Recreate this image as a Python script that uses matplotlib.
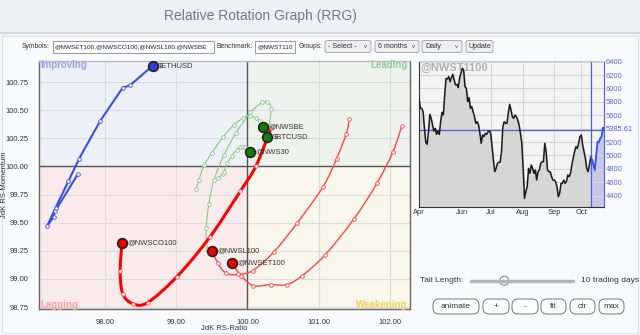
import numpy as np
import matplotlib.pyplot as plt
from matplotlib.path import Path
from matplotlib.patches import PathPatch, Rectangle, FancyBboxPatch, Circle
from matplotlib.transforms import Bbox, TransformedBbox

plt.rcParams['font.family'] = ['Liberation Sans', 'DejaVu Sans']

# RRG trails (oldest -> head), JdK RS-Ratio / RS-Momentum
eth_x = [97.62, 97.30, 97.28, 97.195, 97.31, 97.49, 97.64, 97.93, 98.25, 98.35, 98.67]
eth_y = [99.93, 99.60, 99.55, 99.475, 99.635, 99.87, 100.07, 100.40, 100.70, 100.72, 100.895]

nwsbe_x = [99.28, 99.32, 99.39, 99.50, 99.655, 99.81, 99.94, 100.03, 100.12, 100.18, 100.22]
nwsbe_y = [99.80, 99.88, 100.01, 100.12, 100.26, 100.37, 100.43, 100.45, 100.43, 100.40, 100.35]

btc_x = [99.435, 99.42, 99.46, 99.53, 99.67, 99.84, 100.04, 100.21, 100.28, 100.33, 100.28]
btc_y = [99.27, 99.45, 99.67, 99.88, 100.10, 100.30, 100.48, 100.57, 100.57, 100.51, 100.26]

nws30_x = [99.59, 99.65, 99.67, 99.72, 99.78, 99.85, 99.90, 99.94, 99.97, 100.005, 100.04]
nws30_y = [99.90, 99.93, 99.955, 100.03, 100.095, 100.15, 100.17, 100.17, 100.17, 100.155, 100.13]

nwsco_x = [100.33, 100.12, 99.90, 99.47, 99.01, 98.60, 98.39, 98.25, 98.215, 98.24]
nwsco_y = [100.34, 100.005, 99.78, 99.37, 99.02, 98.79, 98.78, 98.87, 99.07, 99.32]

nwsl_x = [101.43, 101.385, 101.25, 101.06, 100.70, 100.37, 100.075, 99.87, 99.70, 99.585, 99.50]
nwsl_y = [100.42, 100.29, 100.07, 99.82, 99.50, 99.24, 99.075, 99.04, 99.05, 99.14, 99.25]

nwset_x = [102.165, 102.04, 101.815, 101.49, 101.09, 100.77, 100.55, 100.33, 100.08, 99.91, 99.78]
nwset_y = [100.36, 100.13, 99.85, 99.53, 99.215, 99.03, 98.95, 98.95, 98.94, 99.03, 99.14]

# benchmark price (@NWST1100), daily
prices = [5853, 5704, 5704, 5654, 5405, 5196, 5166, 5355, 5614, 5554,
          5455, 5365, 5405, 5315, 5365, 5315, 5505, 5644, 5604, 5903,
          6151, 6141, 6176, 6101, 6161, 6211, 6126, 6052, 6062, 6012,
          6151, 6226, 6300, 6276, 6027, 6002, 5803, 5863, 5704, 5728,
          5654, 5579, 5480, 5505, 5455, 5330, 5181, 5306, 5281, 5330,
          5315, 5355, 5365, 5330, 5131, 4932, 4758, 4808, 4883, 4898,
          4898, 5057, 5430, 5505, 5480, 5480, 5629, 5763, 5679, 5579,
          5554, 5604, 5579, 5529, 5455, 5330, 5181, 4808, 4360, 4460,
          4534, 4808, 4733, 4858, 4808, 4733, 4783, 4634, 4758, 4783,
          4883, 4908, 4908, 5181, 5057, 4783, 4758, 4758, 4684, 4634,
          4634, 4609, 4534, 4385, 4435, 4584, 4584, 4634, 4584, 4609,
          4709, 4684, 4733, 4858, 4957, 5057, 5131, 5106, 5181, 5281,
          5306, 5156, 5057, 4957, 4808, 4758, 4858, 4982, 4932, 4858,
          4783, 5007, 5206, 5196, 5256, 5281, 5415, 5385.61]
month_pos = [0, 32, 53, 77, 100, 120]
month_lbl = ['Apr', 'Jun', 'Jul', 'Aug', 'Sep', 'Oct']
tail_len = 10


def smooth(xs, ys):
    p = np.column_stack([xs, ys])
    verts = [p[0]]
    codes = [Path.MOVETO]
    for i in range(len(p) - 1):
        p0 = p[i - 1] if i > 0 else p[i]
        p3 = p[i + 2] if i + 2 < len(p) else p[i + 1]
        verts += [p[i] + (p[i + 1] - p0) / 6, p[i + 1] - (p3 - p[i]) / 6, p[i + 1]]
        codes += [Path.CURVE4] * 3
    return Path(verts, codes)


fig = plt.figure(figsize=(6.4, 3.35), dpi=100, facecolor='#f7f8fa')

# page chrome in pixel coords
bg = fig.add_axes([0, 0, 1, 1])
bg.set_xlim(0, 640)
bg.set_ylim(335, 0)
bg.axis('off')
bg.set_zorder(-1)
bg.add_patch(Rectangle((0, 0), 640, 33, color='#eef1f4'))
bg.plot([0, 640], [33, 33], color='#d3d8de', lw=1.5)
bg.add_patch(Rectangle((2, 36), 636, 297, facecolor='#f9fafb', edgecolor='#dde1e6', lw=0.8))
bg.text(260, 16, 'Relative Rotation Graph (RRG)', ha='center', va='center', fontsize=10,
        color='#6a7c90')


def box_text(x0, y0, w, h, s, size):
    t = bg.text(x0 + 2, y0 + h / 2, s, va='center', fontsize=size, color='#222')
    t.set_clip_box(TransformedBbox(Bbox.from_extents(x0, y0, x0 + w - 1, y0 + h), bg.transData))
    t.set_clip_on(True)


fs = 5.1
lfs = 4.9
bg.text(50, 46.5, 'Symbols:', ha='right', va='center', fontsize=lfs, color='#333')
bg.add_patch(Rectangle((52.5, 40.5), 161, 12, facecolor='white', edgecolor='#999', lw=0.7))
box_text(52.5, 40.5, 161, 12, '@NWSET100,@NWSCO100,@NWSL100,@NWSBE', 4.6)
bg.text(252.5, 46.5, 'Benchmark:', ha='right', va='center', fontsize=lfs, color='#333')
bg.add_patch(Rectangle((255, 40.5), 40, 12, facecolor='white', edgecolor='#999', lw=0.7))
box_text(255, 40.5, 40, 12, '@NWST110', 4.6)
bg.text(322.5, 46.5, 'Groups:', ha='right', va='center', fontsize=lfs, color='#333')
for x0, w, lbl in [(325, 46, '- Select -'), (375, 44, '6 months'), (422, 40, 'Daily')]:
    bg.add_patch(FancyBboxPatch((x0, 40.5), w, 12, boxstyle='round,pad=0,rounding_size=2',
                                facecolor='#eeeeee', edgecolor='#aaa', lw=0.7))
    bg.text(x0 + 3, 46.5, lbl, va='center', fontsize=fs, color='#333')
    bg.text(x0 + w - 6, 46, 'v', ha='center', va='center', fontsize=4.2, color='#555')
bg.add_patch(FancyBboxPatch((466, 40.5), 27, 12, boxstyle='round,pad=0,rounding_size=2',
                            facecolor='#eeeeee', edgecolor='#aaa', lw=0.7))
bg.text(479.5, 46.5, 'Update', ha='center', va='center', fontsize=fs, color='#333')

# tail slider and buttons
bg.text(420, 280.7, 'Tail Length:', va='center', fontsize=6, color='#333')
bg.plot([471, 573], [280.7, 280.7], color='#b5b5b5', lw=2.5, solid_capstyle='round')
bg.add_patch(Circle((504.3, 280.7), 4.5, facecolor='white', edgecolor='#888', lw=0.8))
bg.text(581, 280.7, '10 trading days', va='center', fontsize=6, color='#333')
for x0, w, lbl in [(433, 46, 'animate'), (483, 26, '+'), (512, 26, '-'), (541, 25, 'fit'),
                   (570, 25, 'ctr'), (599, 25, 'max')]:
    bg.add_patch(FancyBboxPatch((x0, 299), w, 15, boxstyle='round,pad=0,rounding_size=6',
                                facecolor='white', edgecolor='#777', lw=0.7))
    bg.text(x0 + w / 2, 306.5, lbl, ha='center', va='center', fontsize=6, color='#333')

# ---- RRG ----
xmin, xmax, ymin, ymax = 97.07, 102.28, 98.73, 100.94
ax = fig.add_axes([0.0602, 0.0767, 0.5805, 0.742])
ax.set_xlim(xmin, xmax)
ax.set_ylim(ymin, ymax)
ax.add_patch(Rectangle((xmin, 100), 100 - xmin, ymax - 100, color='#eef0f8', zorder=0))
ax.add_patch(Rectangle((100, 100), xmax - 100, ymax - 100, color='#edf3ec', zorder=0))
ax.add_patch(Rectangle((xmin, ymin), 100 - xmin, 100 - ymin, color='#f9ebeb', zorder=0))
ax.add_patch(Rectangle((100, ymin), xmax - 100, 100 - ymin, color='#f9f6ec', zorder=0))
ax.set_xticks([98, 99, 100, 101, 102])
ax.set_yticks(np.arange(98.75, 100.8, 0.25))
ax.xaxis.set_major_formatter(plt.FormatStrFormatter('%.2f'))
ax.yaxis.set_major_formatter(plt.FormatStrFormatter('%.2f'))
ax.grid(color='#dcdcdc', lw=0.8, zorder=1)
ax.axvline(100, color='#555', lw=1, zorder=2)
ax.axhline(100, color='#555', lw=1, zorder=2)
ax.tick_params(length=0, labelsize=5.5, labelcolor='#333', pad=7)
ax.set_xlabel('JdK RS-Ratio', fontsize=5.5, color='#333')
ax.xaxis.set_label_coords(0.5, -0.065)
ax.set_ylabel('JdK RS-Momentum', fontsize=5.5, color='#333')
ax.yaxis.set_label_coords(-0.082, 0.5)
for s in ax.spines.values():
    s.set_color('#666')
    s.set_linewidth(1)
ax.spines['top'].set_color('#bbb')

qfs = 7
ax.text(97.1, 100.90, 'Improving', fontsize=qfs, weight='bold', color='#95a3ee', va='center')
ax.text(102.25, 100.90, 'Leading', fontsize=qfs, weight='bold', color='#93cc93', va='center', ha='right')
ax.text(97.1, 98.77, 'Lagging', fontsize=qfs, weight='bold', color='#f4a3a3', va='center')
ax.text(102.25, 98.77, 'Weakening', fontsize=qfs, weight='bold', color='#f3cf55', va='center', ha='right')

trails = [
    (eth_x, eth_y, '$ETHUSD', '#3b4fe0', 1.5, '#2b3fd6', False),
    (nwsbe_x, nwsbe_y, '@NWSBE', '#86c986', 0.8, '#0b7d0b', True),
    (btc_x, btc_y, '$BTCUSD', '#86c986', 0.8, '#0b7d0b', True),
    (nws30_x, nws30_y, '@NWS30', '#86c986', 0.8, '#0b7d0b', True),
    (nwsl_x, nwsl_y, '@NWSL100', '#ff4545', 1.0, '#ee0000', True),
    (nwset_x, nwset_y, '@NWSET100', '#ff4545', 1.0, '#ee0000', True),
    (nwsco_x, nwsco_y, '@NWSCO100', '#ff0000', 2.2, '#ee0000', True),
]
for xs, ys, name, col, lw, hc, sm in trails:
    if sm:
        ax.add_patch(PathPatch(smooth(xs, ys), fill=False, ec=col, lw=lw, zorder=3))
    else:
        ax.plot(xs, ys, color=col, lw=lw, zorder=3)
    mc = col if lw < 2 else '#ff5555'
    ax.plot(xs[:-1], ys[:-1], ls='none', marker='o', ms=2.6, mfc='white', mec=mc, mew=0.6, zorder=4)
    ax.plot(xs[-1], ys[-1], ls='none', marker='o', ms=7, mfc=hc, mec='#222', mew=1.2, zorder=5)
    ax.annotate(name, (xs[-1], ys[-1]), xytext=(4, 0), textcoords='offset points',
                fontsize=5.5, color='#333', va='center', zorder=6)

# ---- benchmark price panel ----
pa = fig.add_axes([0.6547, 0.383, 0.2895, 0.435])
n = len(prices)
t = np.arange(n)
p = np.array(prices)
pa.set_facecolor('#f4f4f4')
pa.set_xlim(0, n - 1)
pa.set_ylim(4236, 6410)
pa.set_yticks(np.arange(4400, 6401, 200))
pa.set_yticklabels([str(v) if v != 5400 else '' for v in range(4400, 6401, 200)])
pa.set_xticks(month_pos)
pa.set_xticklabels(month_lbl)
pa.grid(color='#d6d6d6', lw=0.8)
pa.yaxis.tick_right()
pa.tick_params(length=0, labelsize=5.4, pad=2)
pa.tick_params(axis='y', labelcolor='#5a6ad0', pad=1)
pa.tick_params(axis='x', labelcolor='#333')
k = n - 1 - tail_len
pa.fill_between(t, p, 4236, color='#d6d6d6', zorder=1)
pa.fill_between(t[k:], p[k:], 4236, color='#c4c8e6', zorder=1)
pa.plot(t[:k + 1], p[:k + 1], color='#1a1a1a', lw=1.1, zorder=3)
pa.plot(t[k:], p[k:], color='#2f4ff0', lw=1.3, zorder=3)
pa.axvline(k, color='#4a5fe0', lw=0.9, zorder=2)
pa.axhline(prices[-1], color='#4a5fe0', lw=0.9, zorder=2)
pa.text(1.01, prices[-1], '%.2f' % prices[-1], transform=pa.get_yaxis_transform(),
        fontsize=5.4, color='#4a5ff0', va='center')
pa.text(0.01, 0.985, '@NWST1100', transform=pa.transAxes, fontsize=8, weight='bold',
        color='#b0b0b0', va='top')
for s in pa.spines.values():
    s.set_color('#333')
pa.spines['right'].set_color('#4a5fe0')
pa.spines['top'].set_color('#cccccc')

fig.savefig('out.png', dpi=100, facecolor=fig.get_facecolor())
